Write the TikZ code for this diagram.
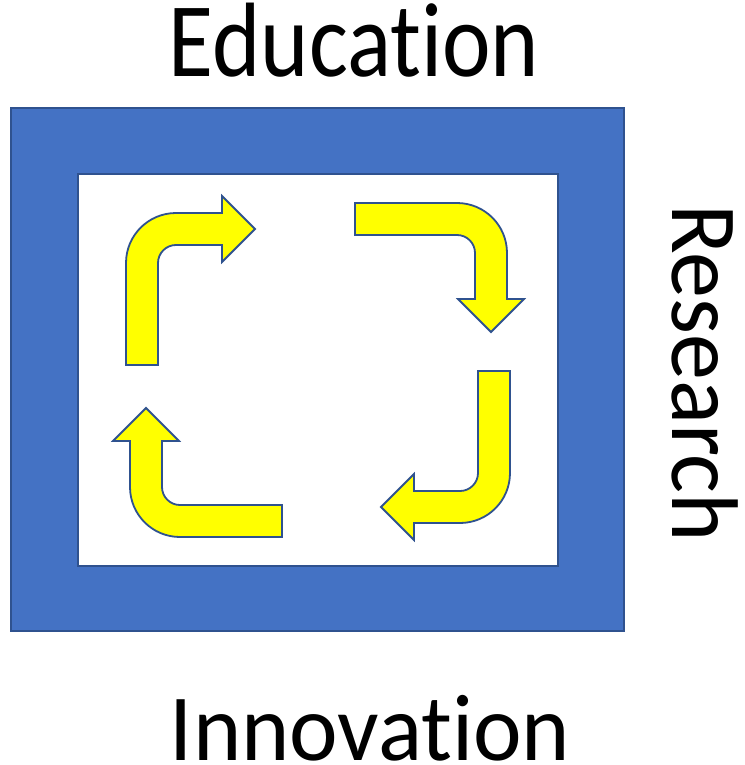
\documentclass[tikz,border=0pt]{standalone}
\usepackage{fontspec}
\setmainfont{Carlito}[Ligatures=CommonOff]
\usepackage{tikz}
\definecolor{frameblue}{HTML}{4472C4}
\definecolor{edgeblue}{HTML}{2F528F}
\definecolor{turnyellow}{HTML}{FFFF00}
\newcommand{\bentarrow}[2]{%
	\begin{scope}[shift={#1},rotate=#2]
		\draw[turn] (0,152) -- (0,50) arc (180:270:50) -- (96,0) -- (96,-17) -- (129,16)
		-- (96,49) -- (96,32) -- (50,32) arc (270:180:18) -- (32,152) -- cycle;
	\end{scope}}

\begin{document}
\begin{tikzpicture}[x=1pt,y=-1pt,
		frame/.style={fill=frameblue,draw=edgeblue,line width=2pt},
		hole/.style={fill=white,draw=edgeblue,line width=2pt},
		turn/.style={fill=turnyellow,draw=edgeblue,line width=1.8pt,line join=miter},
		word/.style={inner sep=0pt,anchor=base,font=\fontsize{92}{93}\selectfont}]
		\useasboundingbox (0,0) rectangle (744,765);
		
		% frame
		\draw[frame] (11,108) rectangle (624,631);
		\draw[hole] (77.5,174) rectangle (558,565.5);
		
		% the four turning arrows
		\bentarrow{(126,213)}{0}
		\bentarrow{(507,203)}{-90}
		\bentarrow{(510,523)}{180}
		\bentarrow{(130,537)}{90}
		
		% labels
		\node[word,yscale=1.15] (education) at (354,77) {Education};
		\node[word,rotate=-90,yscale=1.03] (research) at (672,373) {Research};
		\node[word,yscale=1.03] (innovation) at (370,760) {Innovation};
\end{tikzpicture}
\end{document}
